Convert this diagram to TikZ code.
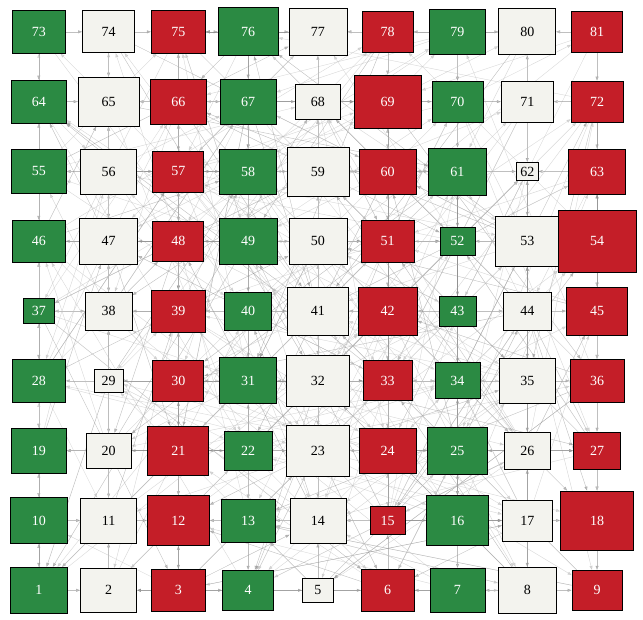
\documentclass[tikz,border=0pt]{standalone}
\usepackage{fontspec}
\setmainfont{Liberation Serif}
\usetikzlibrary{arrows.meta,backgrounds}
\definecolor{gr}{RGB}{43,138,67}
\definecolor{rd}{RGB}{196,30,40}
\definecolor{wt}{RGB}{243,243,238}
\tikzset{
 box/.style={draw=black,line width=0.8pt,inner sep=0pt,rectangle,font=\fontsize{14}{16}\selectfont},
 edge/.style={draw=black!45,line width=0.4pt,opacity=0.55,-{Triangle[length=4pt,width=3pt]}},
 edgel/.style={draw=black!25,line width=0.4pt,opacity=0.6,-{Triangle[length=4pt,width=3pt]}},
}
\begin{document}
\begin{tikzpicture}[x=1pt,y=1pt]
\useasboundingbox (0,0) rectangle (643,-620);
\foreach \n/\w/\h in {1/57/46,2/56/44,3/54/42,4/51/40,5/31/24,6/53/42,7/55/44,8/58/46,9/50/40,
10/57/46,11/56/45,12/62/50,13/54/43,14/56/45,15/35/28,16/62/50,17/50/41,18/73/59,
19/55/45,20/45/35,21/61/49,22/48/39,23/63/51,24/57/45,25/60/47,26/46/37,27/47/37,
28/53/43,29/29/23,30/51/41,31/57/46,32/63/51,33/49/40,34/45/36,35/56/45,36/54/43,
37/31/25,38/47/38,39/54/42,40/47/38,41/61/48,42/59/48,43/37/30,44/48/38,45/61/48,
46/53/42,47/58/46,48/51/40,49/58/46,50/58/46,51/53/42,52/35/28,53/63/50,54/78/62,
55/55/44,56/56/45,57/51/41,58/57/45,59/62/49,60/57/45,61/58/47,62/22/18,63/57/45,
64/55/43,65/61/49,66/56/45,67/56/45,68/45/35,69/67/53,70/51/41,71/52/41,72/52/41,
73/53/43,74/52/42,75/54/43,76/60/48,77/58/47,78/51/41,79/56/45,80/57/46,81/51/41} {
  \pgfmathtruncatemacro\r{div(\n-1,9)}
  \pgfmathtruncatemacro\c{mod(\n-1,9)}
  \pgfmathtruncatemacro\m{mod(\n,3)}
  \ifcase\m \def\fc{rd}\def\tc{white}\or \def\fc{gr}\def\tc{white}\or \def\fc{wt}\def\tc{black}\fi
  \node[box,fill=\fc,text=\tc,minimum width=\w pt,minimum height=\h pt] (n\n) at ({38.8+69.78*\c},{-590.3+69.81*\r}) {\n};
}
\begin{pgfonlayer}{background}
\fill[white] (0,0) rectangle (643,-620);
\pgfmathsetseed{4242}
\foreach \i in {1,...,81} {
  \pgfmathtruncatemacro\r{div(\i-1,9)}
  \pgfmathtruncatemacro\c{mod(\i-1,9)}
  \ifnum\c<8
    \pgfmathtruncatemacro\j{\i+1}
    \pgfmathrandominteger\d{0}{1}
    \ifnum\d=0 \draw[edge] (n\i) -- (n\j); \else \draw[edge] (n\j) -- (n\i); \fi
  \fi
  \ifnum\r<8
    \pgfmathtruncatemacro\j{\i+9}
    \pgfmathrandominteger\d{0}{1}
    \ifnum\d=0 \draw[edge] (n\i) -- (n\j); \else \draw[edge] (n\j) -- (n\i); \fi
  \fi
  \foreach \k in {1,...,10} {
    \pgfmathrandominteger\dr{0}{10}
    \pgfmathrandominteger\dc{0}{10}
    \pgfmathtruncatemacro\rr{\r+\dr-5}
    \pgfmathtruncatemacro\cc{\c+\dc-5}
    \pgfmathtruncatemacro\ok{(\rr>=0)&&(\rr<=8)&&(\cc>=0)&&(\cc<=8)&&!((\dr==5)&&(\dc==5))}
    \ifnum\ok=1
      \pgfmathtruncatemacro\j{\rr*9+\cc+1}
      \pgfmathrandominteger\s{0}{2}
      \ifnum\s=0 \draw[edge] (n\j) -- (n\i); \else \draw[edgel] (n\j) -- (n\i); \fi
    \fi
  }
}
\end{pgfonlayer}
\end{tikzpicture}
\end{document}
